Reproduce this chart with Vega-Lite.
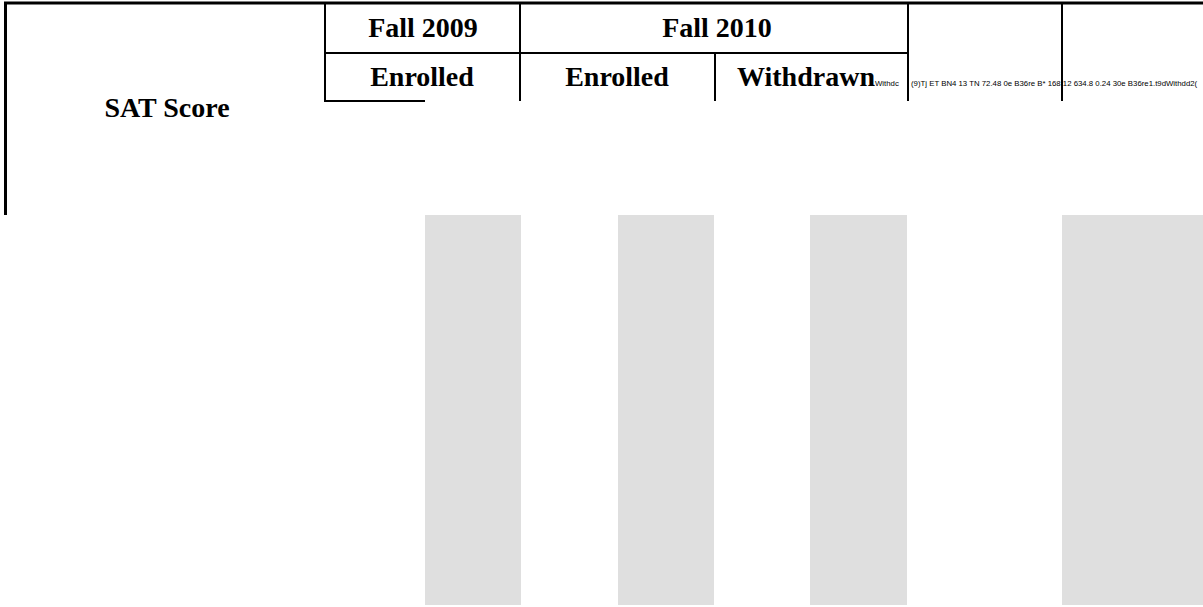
{
  "$schema": "https://vega.github.io/schema/vega-lite/v6.json",
  "width": 1203,
  "height": 607,
  "padding": 0,
  "autosize": {"type": "none"},
  "background": "white",
  "config": {"view": {"stroke": null}},
  "datasets": {
    "cells": [
      {"col": "Fall 2009 Enrolled", "x": 425, "x2": 521, "y": 215, "y2": 605},
      {"col": "Fall 2010 Enrolled", "x": 618, "x2": 714, "y": 215, "y2": 605},
      {"col": "Fall 2010 Withdrawn", "x": 810, "x2": 907, "y": 215, "y2": 605},
      {"col": "Extra", "x": 1062, "x2": 1203, "y": 215, "y2": 605}
    ],
    "lines": [
      {"group": "border", "x": 4, "x2": 1203, "y": 3, "y2": 3},
      {"group": "border", "x": 5.5, "x2": 5.5, "y": 3, "y2": 215},
      {"group": "grid", "x": 325, "x2": 325, "y": 3, "y2": 101},
      {"group": "grid", "x": 520, "x2": 520, "y": 3, "y2": 101},
      {"group": "grid", "x": 908, "x2": 908, "y": 3, "y2": 101},
      {"group": "grid", "x": 1062, "x2": 1062, "y": 3, "y2": 101},
      {"group": "grid", "x": 715, "x2": 715, "y": 53, "y2": 101},
      {"group": "grid", "x": 325, "x2": 908, "y": 53, "y2": 53},
      {"group": "grid", "x": 324, "x2": 425, "y": 101, "y2": 101}
    ],
    "headers": [
      {"label": "Fall 2009", "x": 423, "y": 37},
      {"label": "Fall 2010", "x": 717, "y": 37},
      {"label": "Enrolled", "x": 422, "y": 86},
      {"label": "Enrolled", "x": 617, "y": 86},
      {"label": "Withdrawn", "x": 806, "y": 86},
      {"label": "SAT Score", "x": 167, "y": 117}
    ],
    "notes": [
      {"label": "Withdc", "x": 875, "y": 86},
      {"label": "(9)Tj ET BN4 13 TN 72.48 0e B36re B* 168.12 634.8 0.24 30e B36re1.t9dWithdd2(", "x": 911, "y": 86}
    ]
  },
  "layer": [
    {
      "data": {"name": "cells"},
      "mark": {"type": "rect", "color": "#dfdfdf"},
      "encoding": {
        "x": {"field": "x", "type": "quantitative", "scale": {"domain": [0, 1203], "nice": false, "zero": false}, "axis": null},
        "x2": {"field": "x2"},
        "y": {"field": "y", "type": "quantitative", "scale": {"domain": [0, 607], "nice": false, "zero": false, "reverse": true}, "axis": null},
        "y2": {"field": "y2"}
      }
    },
    {
      "data": {"name": "lines"},
      "transform": [{"filter": "datum.group === 'border'"}],
      "mark": {"type": "rule", "color": "#000000", "strokeWidth": 3},
      "encoding": {
        "x": {"field": "x", "type": "quantitative", "scale": {"domain": [0, 1203], "nice": false, "zero": false}, "axis": null},
        "x2": {"field": "x2"},
        "y": {"field": "y", "type": "quantitative", "scale": {"domain": [0, 607], "nice": false, "zero": false, "reverse": true}, "axis": null},
        "y2": {"field": "y2"}
      }
    },
    {
      "data": {"name": "lines"},
      "transform": [{"filter": "datum.group === 'grid'"}],
      "mark": {"type": "rule", "color": "#000000", "strokeWidth": 2},
      "encoding": {
        "x": {"field": "x", "type": "quantitative", "scale": {"domain": [0, 1203], "nice": false, "zero": false}, "axis": null},
        "x2": {"field": "x2"},
        "y": {"field": "y", "type": "quantitative", "scale": {"domain": [0, 607], "nice": false, "zero": false, "reverse": true}, "axis": null},
        "y2": {"field": "y2"}
      }
    },
    {
      "data": {"name": "headers"},
      "mark": {"type": "text", "font": "Liberation Serif", "fontWeight": "bold", "fontSize": 28, "align": "center", "baseline": "alphabetic", "color": "#000000"},
      "encoding": {
        "x": {"field": "x", "type": "quantitative", "scale": {"domain": [0, 1203], "nice": false, "zero": false}, "axis": null},
        "y": {"field": "y", "type": "quantitative", "scale": {"domain": [0, 607], "nice": false, "zero": false, "reverse": true}, "axis": null},
        "text": {"field": "label"}
      }
    },
    {
      "data": {"name": "notes"},
      "mark": {"type": "text", "font": "Liberation Sans", "fontSize": 7.8, "align": "left", "baseline": "alphabetic", "color": "#000000"},
      "encoding": {
        "x": {"field": "x", "type": "quantitative", "scale": {"domain": [0, 1203], "nice": false, "zero": false}, "axis": null},
        "y": {"field": "y", "type": "quantitative", "scale": {"domain": [0, 607], "nice": false, "zero": false, "reverse": true}, "axis": null},
        "text": {"field": "label"}
      }
    }
  ]
}
